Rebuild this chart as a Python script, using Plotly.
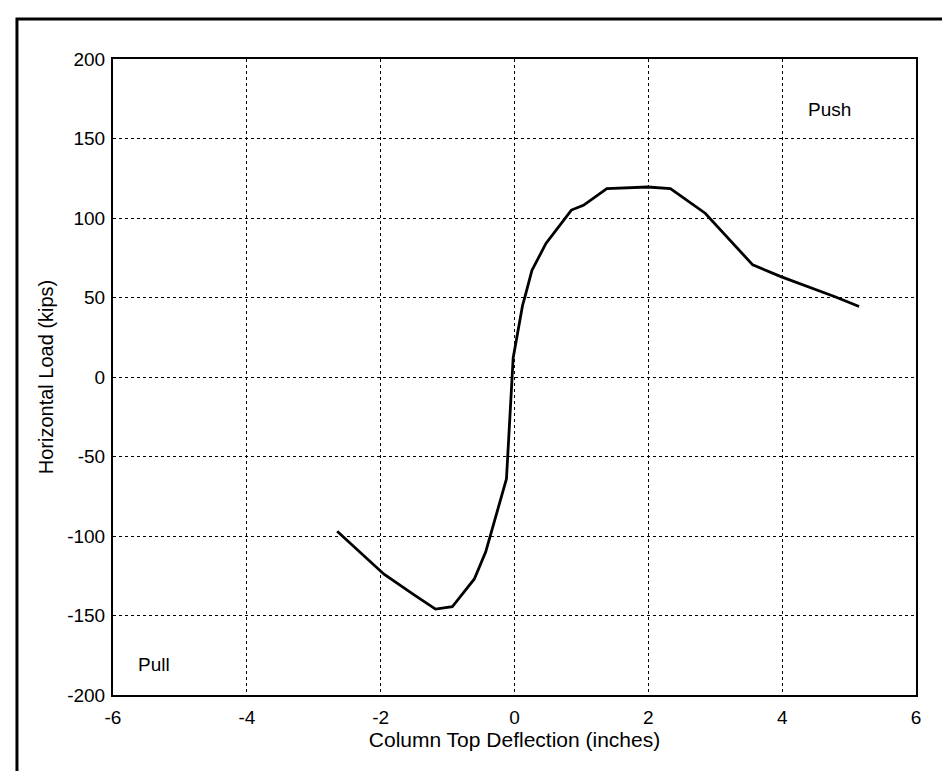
import plotly.graph_objects as go

# Data (deflection in inches, load in kips)
deflection = [-2.65, -1.95, -1.5, -1.18, -0.93, -0.6, -0.43, -0.35, -0.12, -0.02,
              0.085, 0.12, 0.16, 0.26, 0.47, 0.85, 1.03, 1.38, 1.99, 2.33,
              2.85, 3.56, 3.99, 4.79, 5.15]
load = [-97, -124, -137, -146, -144.5, -127, -110, -98, -64, 12,
        37, 45, 51, 67, 84, 105, 108, 118.5, 119.5, 118.5,
        103, 70.5, 63, 50.5, 44.3]

x_ticks = [-6, -4, -2, 0, 2, 4, 6]
y_ticks = [-200, -150, -100, -50, 0, 50, 100, 150, 200]

push_label = dict(text="Push", x=4.7, y=168)
pull_label = dict(text="Pull", x=-5.38, y=-181)

FONT = "Liberation Sans, Arial, sans-serif"

fig = go.Figure()
fig.add_trace(go.Scatter(x=deflection, y=load, mode="lines",
                         line=dict(color="black", width=2.8),
                         showlegend=False, hoverinfo="skip"))

axis_common = dict(showline=True, linecolor="black", linewidth=2, mirror=True,
                   showgrid=True, gridcolor="black", gridwidth=1, griddash="dot",
                   zeroline=False, ticks="", tickfont=dict(family=FONT, size=19, color="black"))

fig.update_xaxes(range=[-6, 6], tickvals=x_ticks, ticktext=[str(v) for v in x_ticks],
                 title=dict(text="Column Top Deflection (inches)",
                            font=dict(family=FONT, size=21, color="black"), standoff=0),
                 ticklabelstandoff=4, **axis_common)
fig.update_yaxes(range=[-200, 200], tickvals=y_ticks, ticktext=[str(v) for v in y_ticks],
                 title=dict(text="Horizontal Load (kips)",
                            font=dict(family=FONT, size=20, color="black"), standoff=8),
                 ticklabelstandoff=2, **axis_common)

for lab in (push_label, pull_label):
    fig.add_annotation(x=lab["x"], y=lab["y"], text=lab["text"], showarrow=False,
                       font=dict(family=FONT, size=19, color="black"))

# outer frame around the whole figure
fig.add_shape(type="rect", xref="paper", yref="paper",
              x0=-0.1196, x1=1.0498, y0=-0.1258, y1=1.063,
              line=dict(color="black", width=3))

fig.update_layout(width=950, height=771, paper_bgcolor="white", plot_bgcolor="white",
                  margin=dict(l=105, r=42, t=51, b=84),
                  font=dict(family=FONT, color="black"))

fig.write_html("out.html")
